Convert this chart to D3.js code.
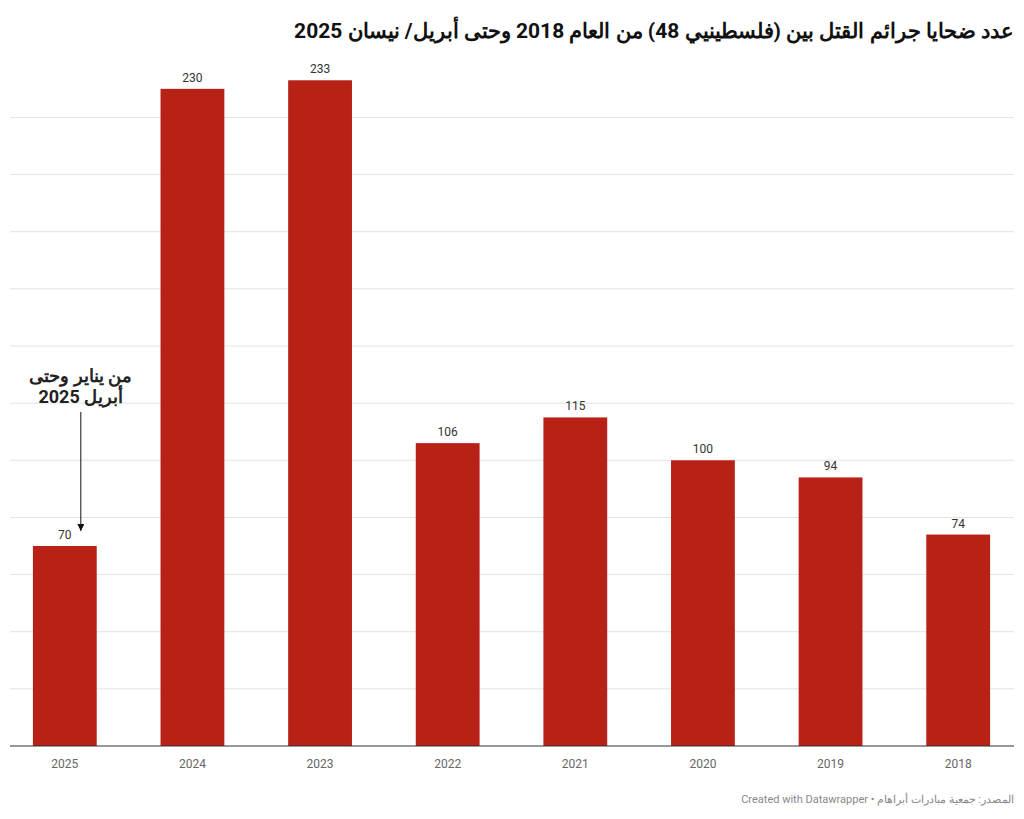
<!DOCTYPE html>
<html><head><meta charset="utf-8">
<script src="https://cdn.jsdelivr.net/npm/d3@7"></script>
<style>body{margin:0;background:#fff;font-family:Roboto,"Noto Sans",sans-serif}</style>
</head><body>
<script>
var years = ["2025", "2024", "2023", "2022", "2021", "2020", "2019", "2018"];
var victims = [70, 230, 233, 106, 115, 100, 94, 74];
var gridTicks = [20, 40, 60, 80, 100, 120, 140, 160, 180, 200, 220];

var svg = d3.select("body").append("svg").attr("width", 1024).attr("height", 819);

var x = d3.scaleBand().domain(years).range([1, 1022]).paddingInner(0.5).paddingOuter(0.25);
var y = d3.scaleLinear().domain([0, 250]).range([746, 31.7]);

// rtl: "start" anchors at the right edge
svg.append("text").attr("x", 1014).attr("y", 38).attr("text-anchor", "start")
  .attr("direction", "rtl").attr("font-size", 21).attr("font-weight", "bold").attr("fill", "#111")
  .text("عدد ضحايا جرائم القتل بين (فلسطينيي 48) من العام 2018 وحتى أبريل/ نيسان 2025");

svg.selectAll("line.grid").data(gridTicks).enter().append("line")
  .attr("x1", 10).attr("x2", 1014).attr("y1", d => y(d)).attr("y2", d => y(d))
  .attr("stroke", "#e3e3e3");

svg.selectAll("rect.bar").data(victims).enter().append("rect")
  .attr("x", (d, i) => x(years[i])).attr("width", x.bandwidth())
  .attr("y", d => y(d)).attr("height", d => y(0) - y(d)).attr("fill", "#b82115");

svg.selectAll("text.val").data(victims).enter().append("text")
  .attr("x", (d, i) => x(years[i]) + x.bandwidth() / 2).attr("y", d => y(d) - 7)
  .attr("text-anchor", "middle").attr("font-size", 12).attr("fill", "#333").text(d => d);

svg.append("line").attr("x1", 10).attr("x2", 1014).attr("y1", y(0)).attr("y2", y(0))
  .attr("stroke", "#333").attr("stroke-width", 1.2);

svg.selectAll("text.yr").data(years).enter().append("text")
  .attr("x", d => x(d) + x.bandwidth() / 2).attr("y", 768)
  .attr("text-anchor", "middle").attr("font-size", 12).attr("fill", "#666").text(d => d);

// annotation
var ax = x("2025") + x.bandwidth() / 2;
svg.append("defs").append("marker").attr("id", "arr").attr("viewBox", "0 0 10 10")
  .attr("refX", 10).attr("refY", 5).attr("markerWidth", 7).attr("markerHeight", 7).attr("orient", "auto")
  .append("path").attr("d", "M0,0L10,5L0,10z").attr("fill", "#111");
svg.append("line").attr("x1", ax + 16).attr("x2", ax + 16).attr("y1", 412).attr("y2", 531)
  .attr("stroke", "#111").attr("marker-end", "url(#arr)");
svg.append("text").attr("x", ax + 16).attr("y", 382).attr("text-anchor", "middle").attr("direction", "rtl")
  .attr("font-size", 18).attr("font-weight", "bold").attr("fill", "#222").text("من يناير وحتى");
svg.append("text").attr("x", ax + 16).attr("y", 403).attr("text-anchor", "middle").attr("direction", "rtl")
  .attr("font-size", 18).attr("font-weight", "bold").attr("fill", "#222").text("أبريل 2025");

svg.append("text").attr("x", 1014).attr("y", 803).attr("text-anchor", "start").attr("direction", "rtl")
  .attr("font-size", 11).attr("fill", "#888").text("المصدر: جمعية مبادرات أبراهام • Created with Datawrapper");
</script>
</body></html>
